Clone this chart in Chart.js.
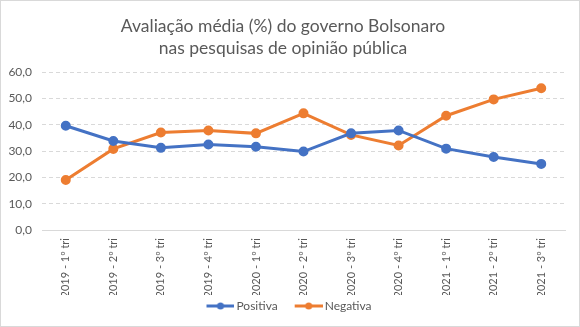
<!DOCTYPE html>
<html>
<head>
<meta charset="utf-8">
<script src="https://cdn.jsdelivr.net/npm/chart.js@4/dist/chart.umd.min.js"></script>
<style>
    html, body { margin: 0; padding: 0; background: #fff; }
    #wrap {
        width: 580px; height: 327px; box-sizing: border-box;
        border: 1px solid #d9d9d9; position: relative;
    }
    #chart { display: block; }
</style>
</head>
<body>
<div id="wrap"><canvas id="chart" width="578" height="325"></canvas></div>
<script>
// Quarter labels
const quarters = [
    '2019 - 1º tri', '2019 - 2º tri', '2019 - 3º tri', '2019 - 4º tri',
    '2020 - 1º tri', '2020 - 2º tri', '2020 - 3º tri', '2020 - 4º tri',
    '2021 - 1º tri', '2021 - 2º tri', '2021 - 3º tri'
];

// Average evaluation (%)
const positiva = [39.6, 33.8, 31.2, 32.5, 31.6, 29.8, 36.7, 37.8, 30.9, 27.7, 25.1];
const negativa = [19.0, 30.8, 37.0, 37.8, 36.7, 44.3, 36.1, 32.1, 43.4, 49.6, 53.8];

const yTicks = [0, 10, 20, 30, 40, 50, 60];

const BLUE = '#4472c4';
const ORANGE = '#ed7d31';
const TEXT = '#595959';
const FONT = 'Lato, "Open Sans", sans-serif';

// Legend marker: short line with a dot in the middle.
// Line sits on the right part of the image so it ends close to the label text.
function legendMarker(color) {
    const c = document.createElement('canvas');
    c.width = 44; c.height = 10;
    const ctx = c.getContext('2d');
    ctx.strokeStyle = color;
    ctx.lineWidth = 3;
    ctx.beginPath();
    ctx.moveTo(16, 5);
    ctx.lineTo(44, 5);
    ctx.stroke();
    ctx.fillStyle = color;
    ctx.beginPath();
    ctx.arc(30, 5, 3.5, 0, Math.PI * 2);
    ctx.fill();
    return c;
}

const markers = [legendMarker(BLUE), legendMarker(ORANGE)];

new Chart(document.getElementById('chart').getContext('2d'), {
    type: 'line',
    data: {
        labels: quarters,
        datasets: [{
            label: 'Positiva',
            data: positiva,
            borderColor: BLUE,
            backgroundColor: BLUE,
            borderWidth: 3,
            pointRadius: 3.5,
            pointHoverRadius: 3.5,
            tension: 0
        }, {
            label: 'Negativa',
            data: negativa,
            borderColor: ORANGE,
            backgroundColor: ORANGE,
            borderWidth: 3,
            pointRadius: 3.5,
            pointHoverRadius: 3.5,
            tension: 0
        }]
    },
    options: {
        responsive: false,
        animation: false,
        layout: { padding: { left: 0, right: 14, top: 0, bottom: 4 } },
        plugins: {
            title: {
                display: true,
                text: ['Avaliação média (%) do governo Bolsonaro', 'nas pesquisas de opinião pública'],
                color: TEXT,
                font: { family: FONT, size: 17.5, weight: 'normal', lineHeight: 1.25 },
                padding: { top: 14.5, bottom: 12.75 }
            },
            legend: {
                position: 'bottom',
                labels: {
                    color: TEXT,
                    font: { family: FONT, size: 12 },
                    usePointStyle: true,
                    pointStyleWidth: 36,
                    boxHeight: 10,
                    padding: 5,
                    generateLabels: (chart) => chart.data.datasets.map((ds, i) => ({
                        text: ds.label,
                        pointStyle: markers[i],
                        fontColor: TEXT,
                        datasetIndex: i,
                        hidden: false,
                        lineWidth: 0,
                        strokeStyle: 'transparent'
                    }))
                }
            },
            tooltip: { enabled: false }
        },
        scales: {
            x: {
                offset: true,
                grid: { display: false, drawTicks: false },
                border: { display: true, color: '#d9d9d9', width: 1 },
                ticks: {
                    color: TEXT,
                    font: { family: FONT, size: 11 },
                    minRotation: 90,
                    maxRotation: 90,
                    padding: 8
                },
                afterFit: (scale) => { scale.height = 65; }
            },
            y: {
                min: 0,
                max: 60,
                afterBuildTicks: (scale) => { scale.ticks = yTicks.map(v => ({ value: v })); },
                grid: {
                    drawTicks: false,
                    color: (ctx) => ctx.tick && ctx.tick.value === 0 ? 'transparent' : '#d9d9d9'
                },
                border: { display: false, dash: [4, 3] },
                ticks: {
                    color: TEXT,
                    font: { family: FONT, size: 12 },
                    padding: 10,
                    callback: (v) => v.toFixed(1).replace('.', ',')
                },
                afterFit: (scale) => { scale.width = 41; }
            }
        }
    }
});
</script>
</body>
</html>
